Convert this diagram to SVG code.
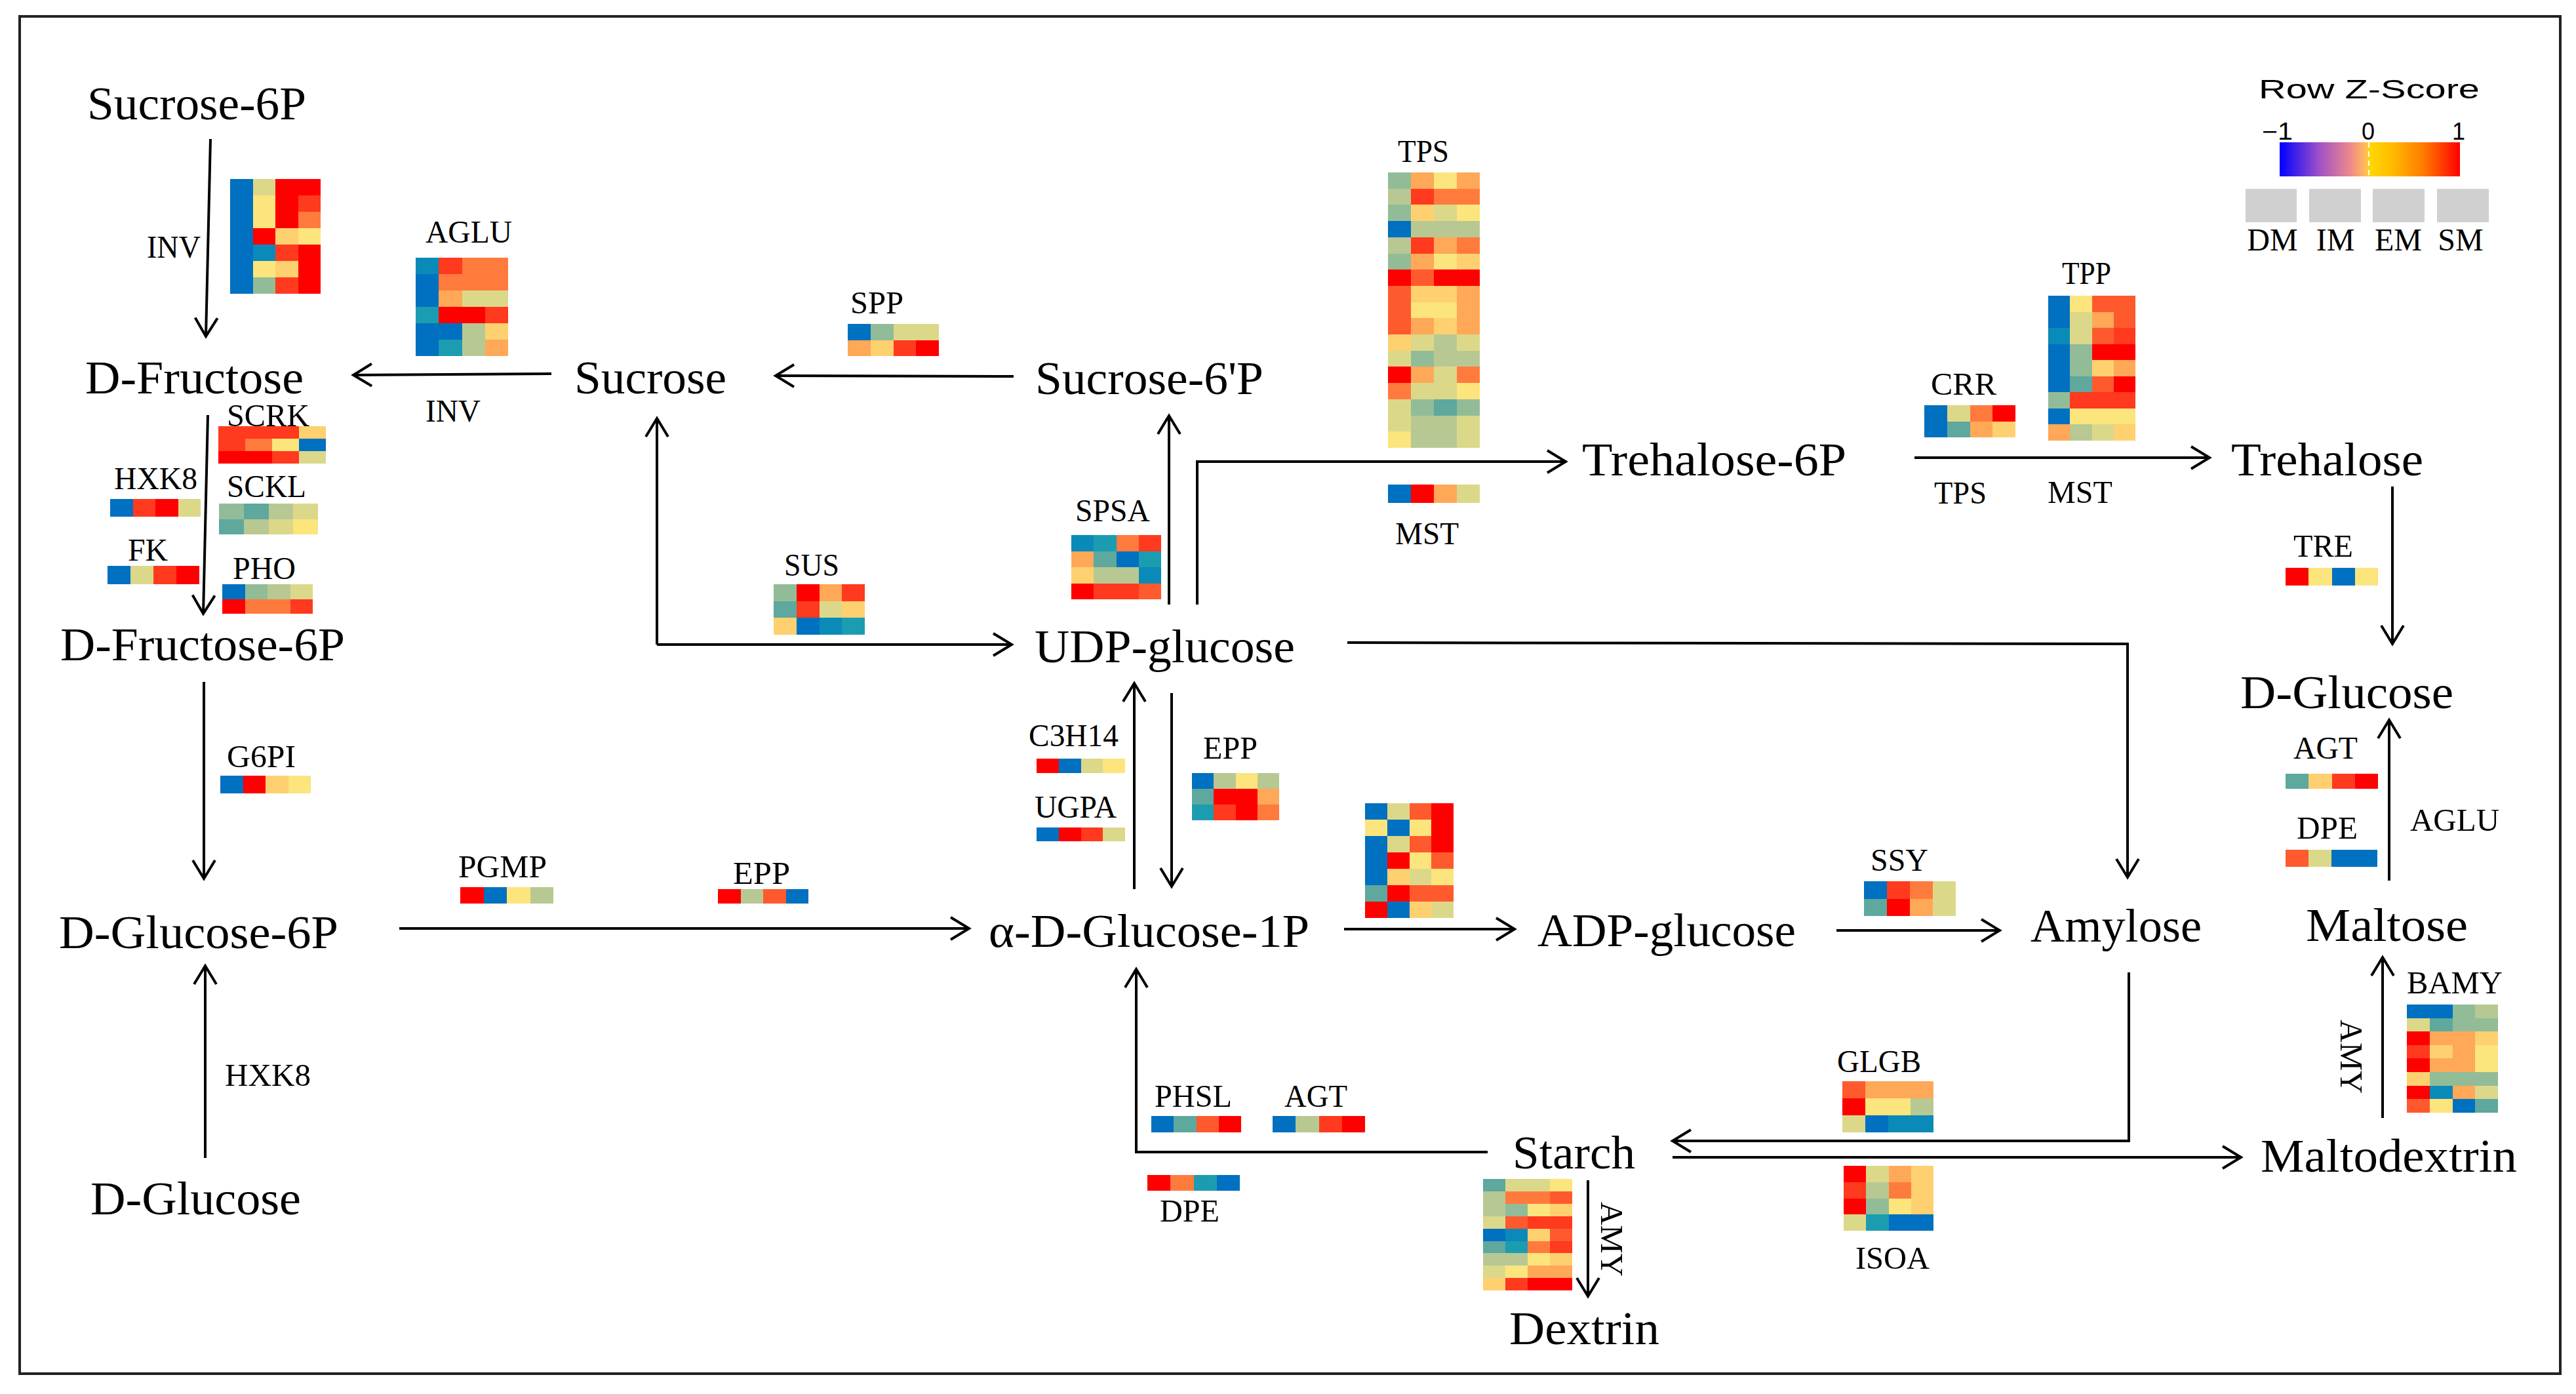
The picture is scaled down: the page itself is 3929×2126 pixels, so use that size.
<svg xmlns="http://www.w3.org/2000/svg" width="3929" height="2126" viewBox="0 0 3929 2126">
<style>
.m{font-family:"Liberation Serif","Times New Roman",serif;font-size:72px;fill:#000}
.e{font-family:"Liberation Serif","Times New Roman",serif;font-size:48px;fill:#000}
.z{font-family:"Liberation Sans",Arial,sans-serif;fill:#000}
.hm{shape-rendering:crispEdges}
.b{fill:#0070c0}.t{fill:#0a8ab8}.c{fill:#1c9cb0}.g{fill:#5ea89e}.h{fill:#92bc98}.s{fill:#b8c892}.k{fill:#dcd88a}.y{fill:#fbe57c}.w{fill:#fed070}.l{fill:#ffa857}.o{fill:#ff7b3d}.p{fill:#ff5a2e}.q{fill:#ff3a1e}.r{fill:#ff0000}
</style>
<defs>
<marker id="ah" markerWidth="40" markerHeight="40" refX="34" refY="20" orient="auto" markerUnits="userSpaceOnUse">
<path d="M6,3 L34,20 L6,37" fill="none" stroke="#000" stroke-width="4"/>
</marker>
<linearGradient id="zg" x1="0" y1="0" x2="1" y2="0">
<stop offset="0" stop-color="#0000ff"/><stop offset="0.22" stop-color="#a050c8"/><stop offset="0.4" stop-color="#f08c88"/><stop offset="0.48" stop-color="#ffbe58"/><stop offset="0.5" stop-color="#ffd700"/><stop offset="0.62" stop-color="#ffbc00"/><stop offset="0.8" stop-color="#ff7a00"/><stop offset="1" stop-color="#ff0000"/>
</linearGradient>
</defs>
<rect x="0" y="0" width="3929" height="2126" fill="#fff"/>
<rect x="30" y="25" width="3875" height="2070" fill="none" stroke="#222" stroke-width="4"/>

<g id="connectors" fill="none" stroke="#000" stroke-width="4">
<path d="M321,212 L314,513" marker-end="url(#ah)"/>
<path d="M841,570 L539,572" marker-end="url(#ah)"/>
<path d="M1546,574 L1183,573" marker-end="url(#ah)"/>
<path d="M317,633 L310,936" marker-end="url(#ah)"/>
<path d="M311,1040 L311,1340" marker-end="url(#ah)"/>
<path d="M313,1766 L313,1473" marker-end="url(#ah)"/>
<path d="M609,1416 L1478,1416" marker-end="url(#ah)"/>
<path d="M1002,983 L1002,638" marker-end="url(#ah)"/>
<path d="M1002,983 L1543,983" marker-end="url(#ah)"/>
<path d="M1783,922 L1783,634" marker-end="url(#ah)"/>
<path d="M1826,922 L1826,704 L2388,704" marker-end="url(#ah)"/>
<path d="M2920,698 L3370,698" marker-end="url(#ah)"/>
<path d="M3649,742 L3649,982" marker-end="url(#ah)"/>
<path d="M3644,1343 L3644,1098" marker-end="url(#ah)"/>
<path d="M3634,1705 L3634,1460" marker-end="url(#ah)"/>
<path d="M2055,980 L3245,982 L3245,1338" marker-end="url(#ah)"/>
<path d="M1730,1356 L1730,1042" marker-end="url(#ah)"/>
<path d="M1787,1057 L1787,1352" marker-end="url(#ah)"/>
<path d="M2050,1417 L2310,1417" marker-end="url(#ah)"/>
<path d="M2801,1419 L3050,1419" marker-end="url(#ah)"/>
<path d="M3247,1483 L3247,1740 L2551,1740" marker-end="url(#ah)"/>
<path d="M2551,1765 L3418,1765" marker-end="url(#ah)"/>
<path d="M2269,1757 L1733,1757 L1733,1478" marker-end="url(#ah)"/>
<path d="M2422,1800 L2422,1977" marker-end="url(#ah)"/>
</g>

<g id="n-sucrose6p"><text class="m" x="133" y="182" textLength="334" lengthAdjust="spacingAndGlyphs">Sucrose-6P</text></g>
<g id="n-dfructose"><text class="m" x="130" y="600" textLength="333" lengthAdjust="spacingAndGlyphs">D-Fructose</text></g>
<g id="n-dfructose6p"><text class="m" x="92" y="1007" textLength="434" lengthAdjust="spacingAndGlyphs">D-Fructose-6P</text></g>
<g id="n-dglucose6p"><text class="m" x="90" y="1446" textLength="426" lengthAdjust="spacingAndGlyphs">D-Glucose-6P</text></g>
<g id="n-dglucose-l"><text class="m" x="138" y="1852" textLength="321" lengthAdjust="spacingAndGlyphs">D-Glucose</text></g>
<g id="n-sucrose"><text class="m" x="876" y="600" textLength="232" lengthAdjust="spacingAndGlyphs">Sucrose</text></g>
<g id="n-sucrose6pp"><text class="m" x="1579" y="601" textLength="348" lengthAdjust="spacingAndGlyphs">Sucrose-6'P</text></g>
<g id="n-udpglucose"><text class="m" x="1578" y="1010" textLength="397" lengthAdjust="spacingAndGlyphs">UDP-glucose</text></g>
<g id="n-trehalose6p"><text class="m" x="2413" y="725" textLength="403" lengthAdjust="spacingAndGlyphs">Trehalose-6P</text></g>
<g id="n-trehalose"><text class="m" x="3403" y="725" textLength="293" lengthAdjust="spacingAndGlyphs">Trehalose</text></g>
<g id="n-dglucose-r"><text class="m" x="3417" y="1080" textLength="325" lengthAdjust="spacingAndGlyphs">D-Glucose</text></g>
<g id="n-adglucose1p"><text class="m" x="1508" y="1444" textLength="489" lengthAdjust="spacingAndGlyphs">α-D-Glucose-1P</text></g>
<g id="n-adpglucose"><text class="m" x="2345" y="1443" textLength="394" lengthAdjust="spacingAndGlyphs">ADP-glucose</text></g>
<g id="n-amylose"><text class="m" x="3097" y="1436" textLength="261" lengthAdjust="spacingAndGlyphs">Amylose</text></g>
<g id="n-maltose"><text class="m" x="3517" y="1435" textLength="247" lengthAdjust="spacingAndGlyphs">Maltose</text></g>
<g id="n-starch"><text class="m" x="2307" y="1782" textLength="187" lengthAdjust="spacingAndGlyphs">Starch</text></g>
<g id="n-maltodextrin"><text class="m" x="3448" y="1787" textLength="391" lengthAdjust="spacingAndGlyphs">Maltodextrin</text></g>
<g id="n-dextrin"><text class="m" x="2302" y="2050" textLength="229" lengthAdjust="spacingAndGlyphs">Dextrin</text></g>

<g id="e-inv">
<text class="e" x="224" y="393" textLength="82" lengthAdjust="spacingAndGlyphs">INV</text>
<g class="hm" transform="translate(351,273) scale(34.5,25)">
<rect class="b" x="0" y="0" width="1" height="1"/><rect class="k" x="1" y="0" width="1" height="1"/><rect class="r" x="2" y="0" width="1" height="1"/><rect class="r" x="3" y="0" width="1" height="1"/>
<rect class="b" x="0" y="1" width="1" height="1"/><rect class="y" x="1" y="1" width="1" height="1"/><rect class="r" x="2" y="1" width="1" height="1"/><rect class="q" x="3" y="1" width="1" height="1"/>
<rect class="b" x="0" y="2" width="1" height="1"/><rect class="y" x="1" y="2" width="1" height="1"/><rect class="r" x="2" y="2" width="1" height="1"/><rect class="o" x="3" y="2" width="1" height="1"/>
<rect class="b" x="0" y="3" width="1" height="1"/><rect class="r" x="1" y="3" width="1" height="1"/><rect class="w" x="2" y="3" width="1" height="1"/><rect class="y" x="3" y="3" width="1" height="1"/>
<rect class="b" x="0" y="4" width="1" height="1"/><rect class="t" x="1" y="4" width="1" height="1"/><rect class="q" x="2" y="4" width="1" height="1"/><rect class="r" x="3" y="4" width="1" height="1"/>
<rect class="b" x="0" y="5" width="1" height="1"/><rect class="y" x="1" y="5" width="1" height="1"/><rect class="w" x="2" y="5" width="1" height="1"/><rect class="r" x="3" y="5" width="1" height="1"/>
<rect class="b" x="0" y="6" width="1" height="1"/><rect class="h" x="1" y="6" width="1" height="1"/><rect class="q" x="2" y="6" width="1" height="1"/><rect class="r" x="3" y="6" width="1" height="1"/>
</g></g>

<g id="e-aglu">
<text class="e" x="649" y="370" textLength="132" lengthAdjust="spacingAndGlyphs">AGLU</text>
<g class="hm" transform="translate(634,393) scale(35.25,25)">
<rect class="t" x="0" y="0" width="1" height="1"/><rect class="q" x="1" y="0" width="1" height="1"/><rect class="o" x="2" y="0" width="1" height="1"/><rect class="o" x="3" y="0" width="1" height="1"/>
<rect class="b" x="0" y="1" width="1" height="1"/><rect class="o" x="1" y="1" width="1" height="1"/><rect class="o" x="2" y="1" width="1" height="1"/><rect class="o" x="3" y="1" width="1" height="1"/>
<rect class="b" x="0" y="2" width="1" height="1"/><rect class="l" x="1" y="2" width="1" height="1"/><rect class="k" x="2" y="2" width="1" height="1"/><rect class="k" x="3" y="2" width="1" height="1"/>
<rect class="c" x="0" y="3" width="1" height="1"/><rect class="r" x="1" y="3" width="1" height="1"/><rect class="r" x="2" y="3" width="1" height="1"/><rect class="q" x="3" y="3" width="1" height="1"/>
<rect class="b" x="0" y="4" width="1" height="1"/><rect class="b" x="1" y="4" width="1" height="1"/><rect class="s" x="2" y="4" width="1" height="1"/><rect class="w" x="3" y="4" width="1" height="1"/>
<rect class="b" x="0" y="5" width="1" height="1"/><rect class="c" x="1" y="5" width="1" height="1"/><rect class="s" x="2" y="5" width="1" height="1"/><rect class="l" x="3" y="5" width="1" height="1"/>
</g>
<text class="e" x="649" y="643" textLength="84" lengthAdjust="spacingAndGlyphs">INV</text>
</g>

<g id="e-spp">
<text class="e" x="1297" y="478" textLength="81" lengthAdjust="spacingAndGlyphs">SPP</text>
<g class="hm" transform="translate(1293,494) scale(34.75,24.5)">
<rect class="b" x="0" y="0" width="1" height="1"/><rect class="h" x="1" y="0" width="1" height="1"/><rect class="k" x="2" y="0" width="1" height="1"/><rect class="k" x="3" y="0" width="1" height="1"/>
<rect class="l" x="0" y="1" width="1" height="1"/><rect class="w" x="1" y="1" width="1" height="1"/><rect class="q" x="2" y="1" width="1" height="1"/><rect class="r" x="3" y="1" width="1" height="1"/>
</g></g>

<g id="e-scrk">
<text class="e" x="346" y="650" font-size="44" textLength="126" lengthAdjust="spacingAndGlyphs">SCRK</text>
<g class="hm" transform="translate(333,650) scale(41,19)">
<rect class="q" x="0" y="0" width="1" height="1"/><rect class="q" x="1" y="0" width="1" height="1"/><rect class="q" x="2" y="0" width="1" height="1"/><rect class="w" x="3" y="0" width="1" height="1"/>
<rect class="q" x="0" y="1" width="1" height="1"/><rect class="o" x="1" y="1" width="1" height="1"/><rect class="y" x="2" y="1" width="1" height="1"/><rect class="b" x="3" y="1" width="1" height="1"/>
<rect class="r" x="0" y="2" width="1" height="1"/><rect class="r" x="1" y="2" width="1" height="1"/><rect class="q" x="2" y="2" width="1" height="1"/><rect class="k" x="3" y="2" width="1" height="1"/>
</g></g>

<g id="e-hxk8-a">
<text class="e" x="174" y="746" textLength="127" lengthAdjust="spacingAndGlyphs">HXK8</text>
<g class="hm" transform="translate(168,761) scale(34.5,27)">
<rect class="b" x="0" y="0" width="1" height="1"/><rect class="q" x="1" y="0" width="1" height="1"/><rect class="r" x="2" y="0" width="1" height="1"/><rect class="k" x="3" y="0" width="1" height="1"/>
</g></g>

<g id="e-sckl">
<text class="e" x="346" y="758" textLength="121" lengthAdjust="spacingAndGlyphs">SCKL</text>
<g class="hm" transform="translate(334,768) scale(37.75,23.5)">
<rect class="h" x="0" y="0" width="1" height="1"/><rect class="g" x="1" y="0" width="1" height="1"/><rect class="s" x="2" y="0" width="1" height="1"/><rect class="k" x="3" y="0" width="1" height="1"/>
<rect class="g" x="0" y="1" width="1" height="1"/><rect class="s" x="1" y="1" width="1" height="1"/><rect class="k" x="2" y="1" width="1" height="1"/><rect class="y" x="3" y="1" width="1" height="1"/>
</g></g>

<g id="e-fk">
<text class="e" x="195" y="855" textLength="61" lengthAdjust="spacingAndGlyphs">FK</text>
<g class="hm" transform="translate(164,863) scale(35,28)">
<rect class="b" x="0" y="0" width="1" height="1"/><rect class="k" x="1" y="0" width="1" height="1"/><rect class="q" x="2" y="0" width="1" height="1"/><rect class="r" x="3" y="0" width="1" height="1"/>
</g></g>

<g id="e-pho">
<text class="e" x="355" y="883" textLength="96" lengthAdjust="spacingAndGlyphs">PHO</text>
<g class="hm" transform="translate(339,891) scale(34.5,22.5)">
<rect class="b" x="0" y="0" width="1" height="1"/><rect class="h" x="1" y="0" width="1" height="1"/><rect class="s" x="2" y="0" width="1" height="1"/><rect class="k" x="3" y="0" width="1" height="1"/>
<rect class="r" x="0" y="1" width="1" height="1"/><rect class="o" x="1" y="1" width="1" height="1"/><rect class="o" x="2" y="1" width="1" height="1"/><rect class="q" x="3" y="1" width="1" height="1"/>
</g></g>

<g id="e-g6pi">
<text class="e" x="346" y="1170" textLength="105" lengthAdjust="spacingAndGlyphs">G6PI</text>
<g class="hm" transform="translate(336,1183) scale(34.5,27)">
<rect class="b" x="0" y="0" width="1" height="1"/><rect class="r" x="1" y="0" width="1" height="1"/><rect class="w" x="2" y="0" width="1" height="1"/><rect class="y" x="3" y="0" width="1" height="1"/>
</g></g>

<g id="e-hxk8-b"><text class="e" x="343" y="1656" textLength="131" lengthAdjust="spacingAndGlyphs">HXK8</text></g>

<g id="e-pgmp">
<text class="e" x="699" y="1338" textLength="135" lengthAdjust="spacingAndGlyphs">PGMP</text>
<g class="hm" transform="translate(702,1353) scale(35.5,25)">
<rect class="r" x="0" y="0" width="1" height="1"/><rect class="b" x="1" y="0" width="1" height="1"/><rect class="y" x="2" y="0" width="1" height="1"/><rect class="s" x="3" y="0" width="1" height="1"/>
</g></g>

<g id="e-epp-a">
<text class="e" x="1118" y="1348" textLength="87" lengthAdjust="spacingAndGlyphs">EPP</text>
<g class="hm" transform="translate(1095,1356) scale(34.5,22)">
<rect class="r" x="0" y="0" width="1" height="1"/><rect class="s" x="1" y="0" width="1" height="1"/><rect class="p" x="2" y="0" width="1" height="1"/><rect class="b" x="3" y="0" width="1" height="1"/>
</g></g>

<g id="e-sus">
<text class="e" x="1196" y="878" textLength="84" lengthAdjust="spacingAndGlyphs">SUS</text>
<g class="hm" transform="translate(1180,891) scale(34.75,25.67)">
<rect class="h" x="0" y="0" width="1" height="1"/><rect class="r" x="1" y="0" width="1" height="1"/><rect class="l" x="2" y="0" width="1" height="1"/><rect class="q" x="3" y="0" width="1" height="1"/>
<rect class="g" x="0" y="1" width="1" height="1"/><rect class="q" x="1" y="1" width="1" height="1"/><rect class="k" x="2" y="1" width="1" height="1"/><rect class="w" x="3" y="1" width="1" height="1"/>
<rect class="w" x="0" y="2" width="1" height="1"/><rect class="b" x="1" y="2" width="1" height="1"/><rect class="t" x="2" y="2" width="1" height="1"/><rect class="c" x="3" y="2" width="1" height="1"/>
</g></g>

<g id="e-spsa">
<text class="e" x="1640" y="795" textLength="114" lengthAdjust="spacingAndGlyphs">SPSA</text>
<g class="hm" transform="translate(1634,816) scale(34.25,24.5)">
<rect class="t" x="0" y="0" width="1" height="1"/><rect class="c" x="1" y="0" width="1" height="1"/><rect class="o" x="2" y="0" width="1" height="1"/><rect class="q" x="3" y="0" width="1" height="1"/>
<rect class="l" x="0" y="1" width="1" height="1"/><rect class="g" x="1" y="1" width="1" height="1"/><rect class="b" x="2" y="1" width="1" height="1"/><rect class="c" x="3" y="1" width="1" height="1"/>
<rect class="w" x="0" y="2" width="1" height="1"/><rect class="s" x="1" y="2" width="1" height="1"/><rect class="s" x="2" y="2" width="1" height="1"/><rect class="t" x="3" y="2" width="1" height="1"/>
<rect class="r" x="0" y="3" width="1" height="1"/><rect class="q" x="1" y="3" width="1" height="1"/><rect class="q" x="2" y="3" width="1" height="1"/><rect class="p" x="3" y="3" width="1" height="1"/>
</g></g>

<g id="e-c3h14">
<text class="e" x="1569" y="1138" textLength="137" lengthAdjust="spacingAndGlyphs">C3H14</text>
<g class="hm" transform="translate(1581,1157) scale(33.75,22)">
<rect class="r" x="0" y="0" width="1" height="1"/><rect class="b" x="1" y="0" width="1" height="1"/><rect class="k" x="2" y="0" width="1" height="1"/><rect class="y" x="3" y="0" width="1" height="1"/>
</g></g>

<g id="e-ugpa">
<text class="e" x="1578" y="1247" textLength="125" lengthAdjust="spacingAndGlyphs">UGPA</text>
<g class="hm" transform="translate(1581,1262) scale(33.75,21)">
<rect class="b" x="0" y="0" width="1" height="1"/><rect class="r" x="1" y="0" width="1" height="1"/><rect class="q" x="2" y="0" width="1" height="1"/><rect class="k" x="3" y="0" width="1" height="1"/>
</g></g>

<g id="e-epp-b">
<text class="e" x="1835" y="1157" textLength="83" lengthAdjust="spacingAndGlyphs">EPP</text>
<g class="hm" transform="translate(1818,1179) scale(33.25,24)">
<rect class="b" x="0" y="0" width="1" height="1"/><rect class="s" x="1" y="0" width="1" height="1"/><rect class="y" x="2" y="0" width="1" height="1"/><rect class="s" x="3" y="0" width="1" height="1"/>
<rect class="g" x="0" y="1" width="1" height="1"/><rect class="r" x="1" y="1" width="1" height="1"/><rect class="r" x="2" y="1" width="1" height="1"/><rect class="l" x="3" y="1" width="1" height="1"/>
<rect class="c" x="0" y="2" width="1" height="1"/><rect class="q" x="1" y="2" width="1" height="1"/><rect class="r" x="2" y="2" width="1" height="1"/><rect class="o" x="3" y="2" width="1" height="1"/>
</g></g>

<g id="e-agpase">
<g class="hm" transform="translate(2082,1225) scale(33.75,25)">
<rect class="b" x="0" y="0" width="1" height="1"/><rect class="k" x="1" y="0" width="1" height="1"/><rect class="p" x="2" y="0" width="1" height="1"/><rect class="r" x="3" y="0" width="1" height="1"/>
<rect class="y" x="0" y="1" width="1" height="1"/><rect class="b" x="1" y="1" width="1" height="1"/><rect class="y" x="2" y="1" width="1" height="1"/><rect class="r" x="3" y="1" width="1" height="1"/>
<rect class="b" x="0" y="2" width="1" height="1"/><rect class="k" x="1" y="2" width="1" height="1"/><rect class="p" x="2" y="2" width="1" height="1"/><rect class="r" x="3" y="2" width="1" height="1"/>
<rect class="b" x="0" y="3" width="1" height="1"/><rect class="r" x="1" y="3" width="1" height="1"/><rect class="y" x="2" y="3" width="1" height="1"/><rect class="p" x="3" y="3" width="1" height="1"/>
<rect class="b" x="0" y="4" width="1" height="1"/><rect class="w" x="1" y="4" width="1" height="1"/><rect class="k" x="2" y="4" width="1" height="1"/><rect class="y" x="3" y="4" width="1" height="1"/>
<rect class="g" x="0" y="5" width="1" height="1"/><rect class="r" x="1" y="5" width="1" height="1"/><rect class="p" x="2" y="5" width="1" height="1"/><rect class="p" x="3" y="5" width="1" height="1"/>
<rect class="r" x="0" y="6" width="1" height="1"/><rect class="b" x="1" y="6" width="1" height="1"/><rect class="w" x="2" y="6" width="1" height="1"/><rect class="k" x="3" y="6" width="1" height="1"/>
</g></g>

<g id="e-tps">
<text class="e" x="2132" y="247" textLength="78" lengthAdjust="spacingAndGlyphs">TPS</text>
<g class="hm" transform="translate(2117,263) scale(35,24.7)">
<rect class="h" x="0" y="0" width="1" height="1"/><rect class="l" x="1" y="0" width="1" height="1"/><rect class="y" x="2" y="0" width="1" height="1"/><rect class="l" x="3" y="0" width="1" height="1"/>
<rect class="s" x="0" y="1" width="1" height="1"/><rect class="q" x="1" y="1" width="1" height="1"/><rect class="o" x="2" y="1" width="1" height="1"/><rect class="o" x="3" y="1" width="1" height="1"/>
<rect class="h" x="0" y="2" width="1" height="1"/><rect class="w" x="1" y="2" width="1" height="1"/><rect class="k" x="2" y="2" width="1" height="1"/><rect class="y" x="3" y="2" width="1" height="1"/>
<rect class="b" x="0" y="3" width="1" height="1"/><rect class="s" x="1" y="3" width="1" height="1"/><rect class="s" x="2" y="3" width="1" height="1"/><rect class="s" x="3" y="3" width="1" height="1"/>
<rect class="s" x="0" y="4" width="1" height="1"/><rect class="q" x="1" y="4" width="1" height="1"/><rect class="l" x="2" y="4" width="1" height="1"/><rect class="o" x="3" y="4" width="1" height="1"/>
<rect class="h" x="0" y="5" width="1" height="1"/><rect class="l" x="1" y="5" width="1" height="1"/><rect class="y" x="2" y="5" width="1" height="1"/><rect class="w" x="3" y="5" width="1" height="1"/>
<rect class="r" x="0" y="6" width="1" height="1"/><rect class="p" x="1" y="6" width="1" height="1"/><rect class="r" x="2" y="6" width="1" height="1"/><rect class="r" x="3" y="6" width="1" height="1"/>
<rect class="p" x="0" y="7" width="1" height="1"/><rect class="w" x="1" y="7" width="1" height="1"/><rect class="w" x="2" y="7" width="1" height="1"/><rect class="l" x="3" y="7" width="1" height="1"/>
<rect class="p" x="0" y="8" width="1" height="1"/><rect class="y" x="1" y="8" width="1" height="1"/><rect class="y" x="2" y="8" width="1" height="1"/><rect class="l" x="3" y="8" width="1" height="1"/>
<rect class="p" x="0" y="9" width="1" height="1"/><rect class="l" x="1" y="9" width="1" height="1"/><rect class="w" x="2" y="9" width="1" height="1"/><rect class="l" x="3" y="9" width="1" height="1"/>
<rect class="w" x="0" y="10" width="1" height="1"/><rect class="k" x="1" y="10" width="1" height="1"/><rect class="s" x="2" y="10" width="1" height="1"/><rect class="k" x="3" y="10" width="1" height="1"/>
<rect class="k" x="0" y="11" width="1" height="1"/><rect class="h" x="1" y="11" width="1" height="1"/><rect class="s" x="2" y="11" width="1" height="1"/><rect class="s" x="3" y="11" width="1" height="1"/>
<rect class="r" x="0" y="12" width="1" height="1"/><rect class="l" x="1" y="12" width="1" height="1"/><rect class="k" x="2" y="12" width="1" height="1"/><rect class="o" x="3" y="12" width="1" height="1"/>
<rect class="o" x="0" y="13" width="1" height="1"/><rect class="k" x="1" y="13" width="1" height="1"/><rect class="k" x="2" y="13" width="1" height="1"/><rect class="y" x="3" y="13" width="1" height="1"/>
<rect class="k" x="0" y="14" width="1" height="1"/><rect class="h" x="1" y="14" width="1" height="1"/><rect class="g" x="2" y="14" width="1" height="1"/><rect class="h" x="3" y="14" width="1" height="1"/>
<rect class="k" x="0" y="15" width="1" height="1"/><rect class="s" x="1" y="15" width="1" height="1"/><rect class="s" x="2" y="15" width="1" height="1"/><rect class="k" x="3" y="15" width="1" height="1"/>
<rect class="y" x="0" y="16" width="1" height="1"/><rect class="s" x="1" y="16" width="1" height="1"/><rect class="s" x="2" y="16" width="1" height="1"/><rect class="k" x="3" y="16" width="1" height="1"/>
</g></g>

<g id="e-mst-a">
<g class="hm" transform="translate(2117,739) scale(35,28)">
<rect class="b" x="0" y="0" width="1" height="1"/><rect class="r" x="1" y="0" width="1" height="1"/><rect class="l" x="2" y="0" width="1" height="1"/><rect class="k" x="3" y="0" width="1" height="1"/>
</g>
<text class="e" x="2128" y="830" textLength="97" lengthAdjust="spacingAndGlyphs">MST</text>
</g>

<g id="e-crr">
<text class="e" x="2945" y="602" textLength="100" lengthAdjust="spacingAndGlyphs">CRR</text>
<g class="hm" transform="translate(2935,618) scale(34.75,24.5)">
<rect class="b" x="0" y="0" width="1" height="1"/><rect class="k" x="1" y="0" width="1" height="1"/><rect class="o" x="2" y="0" width="1" height="1"/><rect class="r" x="3" y="0" width="1" height="1"/>
<rect class="b" x="0" y="1" width="1" height="1"/><rect class="g" x="1" y="1" width="1" height="1"/><rect class="l" x="2" y="1" width="1" height="1"/><rect class="w" x="3" y="1" width="1" height="1"/>
</g>
<text class="e" x="2950" y="768" textLength="80" lengthAdjust="spacingAndGlyphs">TPS</text>
</g>

<g id="e-tpp">
<text class="e" x="3145" y="433" textLength="75" lengthAdjust="spacingAndGlyphs">TPP</text>
<g class="hm" transform="translate(3124,451) scale(33.25,24.56)">
<rect class="b" x="0" y="0" width="1" height="1"/><rect class="y" x="1" y="0" width="1" height="1"/><rect class="p" x="2" y="0" width="1" height="1"/><rect class="p" x="3" y="0" width="1" height="1"/>
<rect class="b" x="0" y="1" width="1" height="1"/><rect class="k" x="1" y="1" width="1" height="1"/><rect class="l" x="2" y="1" width="1" height="1"/><rect class="p" x="3" y="1" width="1" height="1"/>
<rect class="t" x="0" y="2" width="1" height="1"/><rect class="k" x="1" y="2" width="1" height="1"/><rect class="p" x="2" y="2" width="1" height="1"/><rect class="q" x="3" y="2" width="1" height="1"/>
<rect class="b" x="0" y="3" width="1" height="1"/><rect class="h" x="1" y="3" width="1" height="1"/><rect class="r" x="2" y="3" width="1" height="1"/><rect class="r" x="3" y="3" width="1" height="1"/>
<rect class="b" x="0" y="4" width="1" height="1"/><rect class="h" x="1" y="4" width="1" height="1"/><rect class="w" x="2" y="4" width="1" height="1"/><rect class="l" x="3" y="4" width="1" height="1"/>
<rect class="b" x="0" y="5" width="1" height="1"/><rect class="g" x="1" y="5" width="1" height="1"/><rect class="p" x="2" y="5" width="1" height="1"/><rect class="r" x="3" y="5" width="1" height="1"/>
<rect class="h" x="0" y="6" width="1" height="1"/><rect class="q" x="1" y="6" width="1" height="1"/><rect class="q" x="2" y="6" width="1" height="1"/><rect class="q" x="3" y="6" width="1" height="1"/>
<rect class="b" x="0" y="7" width="1" height="1"/><rect class="y" x="1" y="7" width="1" height="1"/><rect class="y" x="2" y="7" width="1" height="1"/><rect class="y" x="3" y="7" width="1" height="1"/>
<rect class="l" x="0" y="8" width="1" height="1"/><rect class="s" x="1" y="8" width="1" height="1"/><rect class="k" x="2" y="8" width="1" height="1"/><rect class="w" x="3" y="8" width="1" height="1"/>
</g>
<text class="e" x="3123" y="767" textLength="99" lengthAdjust="spacingAndGlyphs">MST</text>
</g>

<g id="e-tre">
<text class="e" x="3498" y="849" textLength="91" lengthAdjust="spacingAndGlyphs">TRE</text>
<g class="hm" transform="translate(3486,866) scale(35.25,27)">
<rect class="r" x="0" y="0" width="1" height="1"/><rect class="y" x="1" y="0" width="1" height="1"/><rect class="b" x="2" y="0" width="1" height="1"/><rect class="y" x="3" y="0" width="1" height="1"/>
</g></g>

<g id="e-agt-a">
<text class="e" x="3498" y="1157" textLength="98" lengthAdjust="spacingAndGlyphs">AGT</text>
<g class="hm" transform="translate(3486,1180) scale(35.25,23)">
<rect class="g" x="0" y="0" width="1" height="1"/><rect class="w" x="1" y="0" width="1" height="1"/><rect class="q" x="2" y="0" width="1" height="1"/><rect class="r" x="3" y="0" width="1" height="1"/>
</g></g>

<g id="e-dpe-a">
<text class="e" x="3503" y="1279" textLength="93" lengthAdjust="spacingAndGlyphs">DPE</text>
<g class="hm" transform="translate(3486,1296) scale(35,26)">
<rect class="p" x="0" y="0" width="1" height="1"/><rect class="k" x="1" y="0" width="1" height="1"/><rect class="b" x="2" y="0" width="1" height="1"/><rect class="b" x="3" y="0" width="1" height="1"/>
</g></g>

<g id="e-aglu-b"><text class="e" x="3676" y="1267" textLength="136" lengthAdjust="spacingAndGlyphs">AGLU</text></g>

<g id="e-bamy">
<text class="e" x="3671" y="1515" textLength="146" lengthAdjust="spacingAndGlyphs">BAMY</text>
<g class="hm" transform="translate(3671,1532) scale(34.75,20.6)">
<rect class="b" x="0" y="0" width="1" height="1"/><rect class="b" x="1" y="0" width="1" height="1"/><rect class="h" x="2" y="0" width="1" height="1"/><rect class="s" x="3" y="0" width="1" height="1"/>
<rect class="k" x="0" y="1" width="1" height="1"/><rect class="g" x="1" y="1" width="1" height="1"/><rect class="h" x="2" y="1" width="1" height="1"/><rect class="h" x="3" y="1" width="1" height="1"/>
<rect class="r" x="0" y="2" width="1" height="1"/><rect class="l" x="1" y="2" width="1" height="1"/><rect class="l" x="2" y="2" width="1" height="1"/><rect class="w" x="3" y="2" width="1" height="1"/>
<rect class="q" x="0" y="3" width="1" height="1"/><rect class="w" x="1" y="3" width="1" height="1"/><rect class="l" x="2" y="3" width="1" height="1"/><rect class="y" x="3" y="3" width="1" height="1"/>
<rect class="r" x="0" y="4" width="1" height="1"/><rect class="l" x="1" y="4" width="1" height="1"/><rect class="l" x="2" y="4" width="1" height="1"/><rect class="y" x="3" y="4" width="1" height="1"/>
<rect class="w" x="0" y="5" width="1" height="1"/><rect class="h" x="1" y="5" width="1" height="1"/><rect class="h" x="2" y="5" width="1" height="1"/><rect class="h" x="3" y="5" width="1" height="1"/>
<rect class="r" x="0" y="6" width="1" height="1"/><rect class="t" x="1" y="6" width="1" height="1"/><rect class="l" x="2" y="6" width="1" height="1"/><rect class="k" x="3" y="6" width="1" height="1"/>
<rect class="p" x="0" y="7" width="1" height="1"/><rect class="y" x="1" y="7" width="1" height="1"/><rect class="b" x="2" y="7" width="1" height="1"/><rect class="g" x="3" y="7" width="1" height="1"/>
</g></g>

<g id="e-amy-a"><text class="e" transform="translate(3570,1555) rotate(90)" x="0" y="0" textLength="113" lengthAdjust="spacingAndGlyphs">AMY</text></g>

<g id="e-ssy">
<text class="e" x="2853" y="1328" textLength="88" lengthAdjust="spacingAndGlyphs">SSY</text>
<g class="hm" transform="translate(2843,1344) scale(35,26.5)">
<rect class="b" x="0" y="0" width="1" height="1"/><rect class="q" x="1" y="0" width="1" height="1"/><rect class="o" x="2" y="0" width="1" height="1"/><rect class="k" x="3" y="0" width="1" height="1"/>
<rect class="g" x="0" y="1" width="1" height="1"/><rect class="r" x="1" y="1" width="1" height="1"/><rect class="l" x="2" y="1" width="1" height="1"/><rect class="k" x="3" y="1" width="1" height="1"/>
</g></g>

<g id="e-glgb">
<text class="e" x="2802" y="1635" textLength="128" lengthAdjust="spacingAndGlyphs">GLGB</text>
<g class="hm" transform="translate(2810,1649) scale(34.75,26)">
<rect class="p" x="0" y="0" width="1" height="1"/><rect class="l" x="1" y="0" width="1" height="1"/><rect class="l" x="2" y="0" width="1" height="1"/><rect class="l" x="3" y="0" width="1" height="1"/>
<rect class="r" x="0" y="1" width="1" height="1"/><rect class="y" x="1" y="1" width="1" height="1"/><rect class="y" x="2" y="1" width="1" height="1"/><rect class="s" x="3" y="1" width="1" height="1"/>
<rect class="k" x="0" y="2" width="1" height="1"/><rect class="b" x="1" y="2" width="1" height="1"/><rect class="t" x="2" y="2" width="1" height="1"/><rect class="t" x="3" y="2" width="1" height="1"/>
</g></g>

<g id="e-isoa">
<g class="hm" transform="translate(2812,1778) scale(34.25,24.75)">
<rect class="r" x="0" y="0" width="1" height="1"/><rect class="k" x="1" y="0" width="1" height="1"/><rect class="l" x="2" y="0" width="1" height="1"/><rect class="w" x="3" y="0" width="1" height="1"/>
<rect class="q" x="0" y="1" width="1" height="1"/><rect class="s" x="1" y="1" width="1" height="1"/><rect class="o" x="2" y="1" width="1" height="1"/><rect class="w" x="3" y="1" width="1" height="1"/>
<rect class="r" x="0" y="2" width="1" height="1"/><rect class="h" x="1" y="2" width="1" height="1"/><rect class="y" x="2" y="2" width="1" height="1"/><rect class="w" x="3" y="2" width="1" height="1"/>
<rect class="k" x="0" y="3" width="1" height="1"/><rect class="c" x="1" y="3" width="1" height="1"/><rect class="b" x="2" y="3" width="1" height="1"/><rect class="b" x="3" y="3" width="1" height="1"/>
</g>
<text class="e" x="2830" y="1935" textLength="113" lengthAdjust="spacingAndGlyphs">ISOA</text>
</g>

<g id="e-phsl">
<text class="e" x="1761" y="1688" textLength="118" lengthAdjust="spacingAndGlyphs">PHSL</text>
<g class="hm" transform="translate(1756,1702) scale(34.25,25)">
<rect class="b" x="0" y="0" width="1" height="1"/><rect class="g" x="1" y="0" width="1" height="1"/><rect class="p" x="2" y="0" width="1" height="1"/><rect class="r" x="3" y="0" width="1" height="1"/>
</g></g>

<g id="e-agt-b">
<text class="e" x="1959" y="1688" textLength="96" lengthAdjust="spacingAndGlyphs">AGT</text>
<g class="hm" transform="translate(1941,1702) scale(35.25,25)">
<rect class="b" x="0" y="0" width="1" height="1"/><rect class="s" x="1" y="0" width="1" height="1"/><rect class="q" x="2" y="0" width="1" height="1"/><rect class="r" x="3" y="0" width="1" height="1"/>
</g></g>

<g id="e-dpe-b">
<g class="hm" transform="translate(1750,1792) scale(35.25,24)">
<rect class="r" x="0" y="0" width="1" height="1"/><rect class="o" x="1" y="0" width="1" height="1"/><rect class="c" x="2" y="0" width="1" height="1"/><rect class="b" x="3" y="0" width="1" height="1"/>
</g>
<text class="e" x="1769" y="1863" textLength="91" lengthAdjust="spacingAndGlyphs">DPE</text>
</g>

<g id="e-amy-b">
<g class="hm" transform="translate(2262,1798) scale(34,18.9)">
<rect class="g" x="0" y="0" width="1" height="1"/><rect class="k" x="1" y="0" width="1" height="1"/><rect class="k" x="2" y="0" width="1" height="1"/><rect class="y" x="3" y="0" width="1" height="1"/>
<rect class="s" x="0" y="1" width="1" height="1"/><rect class="o" x="1" y="1" width="1" height="1"/><rect class="o" x="2" y="1" width="1" height="1"/><rect class="p" x="3" y="1" width="1" height="1"/>
<rect class="s" x="0" y="2" width="1" height="1"/><rect class="h" x="1" y="2" width="1" height="1"/><rect class="y" x="2" y="2" width="1" height="1"/><rect class="w" x="3" y="2" width="1" height="1"/>
<rect class="k" x="0" y="3" width="1" height="1"/><rect class="p" x="1" y="3" width="1" height="1"/><rect class="q" x="2" y="3" width="1" height="1"/><rect class="q" x="3" y="3" width="1" height="1"/>
<rect class="b" x="0" y="4" width="1" height="1"/><rect class="t" x="1" y="4" width="1" height="1"/><rect class="w" x="2" y="4" width="1" height="1"/><rect class="p" x="3" y="4" width="1" height="1"/>
<rect class="g" x="0" y="5" width="1" height="1"/><rect class="c" x="1" y="5" width="1" height="1"/><rect class="o" x="2" y="5" width="1" height="1"/><rect class="q" x="3" y="5" width="1" height="1"/>
<rect class="s" x="0" y="6" width="1" height="1"/><rect class="s" x="1" y="6" width="1" height="1"/><rect class="y" x="2" y="6" width="1" height="1"/><rect class="w" x="3" y="6" width="1" height="1"/>
<rect class="k" x="0" y="7" width="1" height="1"/><rect class="y" x="1" y="7" width="1" height="1"/><rect class="l" x="2" y="7" width="1" height="1"/><rect class="l" x="3" y="7" width="1" height="1"/>
<rect class="w" x="0" y="8" width="1" height="1"/><rect class="q" x="1" y="8" width="1" height="1"/><rect class="r" x="2" y="8" width="1" height="1"/><rect class="r" x="3" y="8" width="1" height="1"/>
</g>
<text class="e" transform="translate(2442,1833) rotate(90)" x="0" y="0" textLength="114" lengthAdjust="spacingAndGlyphs">AMY</text>
</g>

<g id="legend">
<text class="z" x="3445" y="150" font-size="40" textLength="337" lengthAdjust="spacingAndGlyphs">Row Z-Score</text>
<text class="z" x="3450" y="213" font-size="36" textLength="47" lengthAdjust="spacingAndGlyphs">−1</text>
<text class="z" x="3602" y="213" font-size="36">0</text>
<text class="z" x="3740" y="213" font-size="36">1</text>
<rect x="3477" y="217" width="275" height="52" fill="url(#zg)"/>
<line x1="3613" y1="217" x2="3613" y2="269" stroke="#fff" stroke-width="2" stroke-dasharray="8,6"/>
<g fill="#d0d0d0">
<rect x="3425" y="288" width="78" height="51"/>
<rect x="3522" y="288" width="79" height="51"/>
<rect x="3619" y="288" width="79" height="51"/>
<rect x="3717" y="288" width="79" height="51"/>
</g>
<text class="e" x="3466" y="382" text-anchor="middle">DM</text>
<text class="e" x="3562" y="382" text-anchor="middle">IM</text>
<text class="e" x="3658" y="382" text-anchor="middle">EM</text>
<text class="e" x="3753" y="382" text-anchor="middle">SM</text>
</g>
</svg>
